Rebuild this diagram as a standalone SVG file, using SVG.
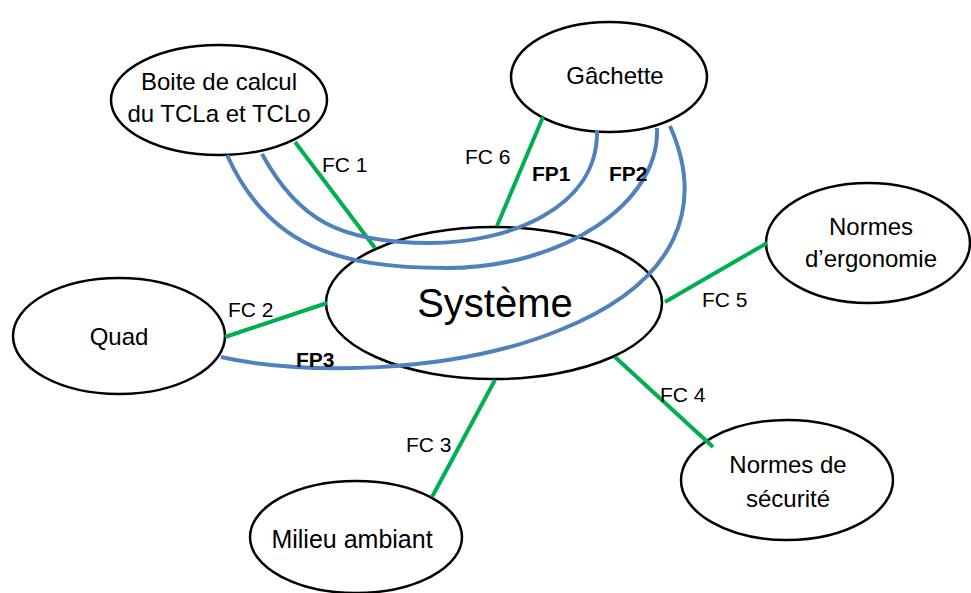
<svg xmlns="http://www.w3.org/2000/svg" width="971" height="593" viewBox="0 0 971 593">
<style>
.node{fill:#ffffff;stroke:#000000;stroke-width:2.5}
.t{font-family:"Liberation Sans",Arial,sans-serif;font-size:24px;fill:#000;text-anchor:middle}
.big{font-size:40px}
.fc{stroke:#00B050;stroke-width:4;fill:none}
.fp{stroke:#4F81BD;stroke-width:4;fill:none}
.lbl{font-family:"Liberation Sans",Arial,sans-serif;font-size:21px;fill:#000}
.b{font-weight:bold}
</style>
<rect width="971" height="593" fill="#ffffff"/>
<g id="boite">
<ellipse class="node" cx="219" cy="100" rx="108" ry="55"/>
<text class="t" x="219" y="90">Boite de calcul</text>
<text class="t" x="219" y="122">du TCLa et TCLo</text>
</g>
<g id="gachette">
<ellipse class="node" cx="609" cy="77" rx="98" ry="55"/>
<text class="t" x="615" y="84">Gâchette</text>
</g>
<g id="ergonomie">
<ellipse class="node" cx="868" cy="243" rx="102" ry="60"/>
<text class="t" x="871" y="235">Normes</text>
<text class="t" x="871" y="267">d’ergonomie</text>
</g>
<g id="quad">
<ellipse class="node" cx="119" cy="336" rx="106" ry="58"/>
<text class="t" x="119" y="345">Quad</text>
</g>
<g id="systeme">
<ellipse class="node" cx="494" cy="303" rx="168" ry="76"/>
<text class="t big" x="495" y="317">Système</text>
</g>
<g id="securite">
<ellipse class="node" cx="787" cy="480" rx="106" ry="60"/>
<text class="t" x="788" y="473">Normes de</text>
<text class="t" x="788" y="507">sécurité</text>
</g>
<g id="milieu">
<ellipse class="node" cx="356" cy="537" rx="106" ry="56"/>
<text class="t" x="352" y="548" style="font-size:25px">Milieu ambiant</text>
</g>
<g id="connectors">
<line class="fc" x1="295" y1="142" x2="375" y2="248"/>
<line class="fc" x1="543" y1="117" x2="497" y2="226"/>
<line class="fc" x1="225" y1="337" x2="327" y2="303"/>
<line class="fc" x1="665" y1="302" x2="767" y2="243"/>
<line class="fc" x1="615" y1="357" x2="713" y2="447"/>
<line class="fc" x1="495" y1="380" x2="432" y2="497"/>
<path class="fp" d="M262,154 C298,220 340,243 430,243 C505,243 599,210 597,130"/>
<path class="fp" d="M227,155 C268,246 337,268 447,268 C560,268 660,205 657,128"/>
<path class="fp" d="M221,357 C300,375 450,375 560,330 C680,282 705,205 670,126"/>
<text class="lbl" x="322" y="172">FC 1</text>
<text class="lbl" x="465" y="164">FC 6</text>
<text class="lbl b" x="532" y="181">FP1</text>
<text class="lbl b" x="609" y="181">FP2</text>
<text class="lbl" x="228" y="317">FC 2</text>
<text class="lbl b" x="296" y="367">FP3</text>
<text class="lbl" x="702" y="307">FC 5</text>
<text class="lbl" x="660" y="402">FC 4</text>
<text class="lbl" x="406" y="452">FC 3</text>
</g>
</svg>
